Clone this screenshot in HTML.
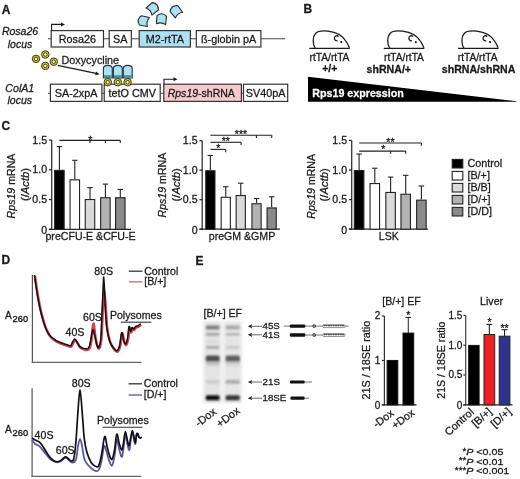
<!DOCTYPE html>
<html><head><meta charset="utf-8"><style>
html,body{margin:0;padding:0;background:#fff;}
svg{display:block;filter:blur(0.35px);}
text{stroke:#1a1a1a;stroke-width:0.28px;}
text.w{stroke:#fff;}
</style></head><body>
<svg width="520" height="479" viewBox="0 0 520 479" font-family='"Liberation Sans", sans-serif' fill="#1a1a1a">
<rect width="520" height="479" fill="#fff"/>
<text x="1.8" y="13.6" font-size="12" font-weight="bold">A</text>
<text x="20" y="35.4" font-size="10.5" text-anchor="middle" font-style="italic">Rosa26</text>
<text x="20" y="47.6" font-size="10.5" text-anchor="middle" font-style="italic">locus</text>
<line x1="48" y1="38.7" x2="285" y2="38.7" stroke="#444" stroke-width="1.1"/>
<rect x="51.2" y="30.6" width="52.3" height="16.4" fill="#fff" stroke="#333" stroke-width="1.2"/>
<text x="77.35" y="43" font-size="10.8" text-anchor="middle">Rosa26</text>
<rect x="109.2" y="30.6" width="22.1" height="16.4" fill="#fff" stroke="#333" stroke-width="1.2"/>
<text x="120.25" y="43" font-size="10.8" text-anchor="middle">SA</text>
<rect x="139.2" y="30.6" width="51.2" height="16.4" fill="#aee0f2" stroke="#333" stroke-width="1.2"/>
<text x="164.8" y="43" font-size="10.8" text-anchor="middle">M2-rtTA</text>
<rect x="196.3" y="30.6" width="64.6" height="16.4" fill="#fff" stroke="#333" stroke-width="1.2"/>
<text x="228.6" y="43" font-size="10.8" text-anchor="middle">ß-globin pA</text>
<path d="M51.6,30.6 V24.4 H62" fill="none" stroke="#1a1a1a" stroke-width="1.1"/>
<path d="M61,22.4 L65,24.4 L61,26.4 Z" fill="#1a1a1a"/>
<path d="M-4.8,-3 Q0,-7.4 4.8,-3 L4.6,5.2 Q0,2.6 -4.6,5.2 Z" transform="translate(143.3,21) rotate(-78)" fill="#aee0f2" stroke="#1d2f38" stroke-width="1.1" stroke-linejoin="round"/>
<path d="M-4.8,-3 Q0,-7.4 4.8,-3 L4.6,5.2 Q0,2.6 -4.6,5.2 Z" transform="translate(153,8.2) rotate(50)" fill="#aee0f2" stroke="#1d2f38" stroke-width="1.1" stroke-linejoin="round"/>
<path d="M-4.8,-3 Q0,-7.4 4.8,-3 L4.6,5.2 Q0,2.6 -4.6,5.2 Z" transform="translate(161.5,19) rotate(5)" fill="#aee0f2" stroke="#1d2f38" stroke-width="1.1" stroke-linejoin="round"/>
<path d="M-4.8,-3 Q0,-7.4 4.8,-3 L4.6,5.2 Q0,2.6 -4.6,5.2 Z" transform="translate(175.8,11) rotate(-38)" fill="#aee0f2" stroke="#1d2f38" stroke-width="1.1" stroke-linejoin="round"/>
<text x="19.8" y="91.5" font-size="10.6" text-anchor="middle" font-style="italic">ColA1</text>
<text x="19.8" y="103.6" font-size="10.6" text-anchor="middle" font-style="italic">locus</text>
<line x1="48" y1="93.3" x2="288" y2="93.3" stroke="#444" stroke-width="1.1"/>
<rect x="50.4" y="84.2" width="51.5" height="17.2" fill="#fff" stroke="#333" stroke-width="1.2"/>
<text x="76.15" y="97.4" font-size="10.8" text-anchor="middle">SA-2xpA</text>
<rect x="104.2" y="84.2" width="56" height="17.2" fill="#fff" stroke="#333" stroke-width="1.2"/>
<text x="132.2" y="97.4" font-size="10.8" text-anchor="middle">tetO CMV</text>
<rect x="163.8" y="84.2" width="77.6" height="17.2" fill="#f6c9cb" stroke="#333" stroke-width="1.2"/>
<text x="201.3" y="97.2" font-size="10.5" text-anchor="middle" textLength="67.2" lengthAdjust="spacingAndGlyphs"><tspan font-style="italic">Rps19</tspan>-shRNA</text>
<rect x="243.5" y="84.2" width="44.2" height="17.2" fill="#fff" stroke="#333" stroke-width="1.2"/>
<text x="265.6" y="97.4" font-size="10.8" text-anchor="middle">SV40pA</text>
<path d="M164,84.2 V79.2 H174.5" fill="none" stroke="#1a1a1a" stroke-width="1.1"/>
<path d="M173.5,77.2 L177.5,79.2 L173.5,81.2 Z" fill="#1a1a1a"/>
<path d="M103.4,78 V68.6 Q103.4,65.4 107.85,65.4 Q112.3,65.4 112.3,68.6 V78 Z" fill="#aee0f2" stroke="#1d3a48" stroke-width="1.15"/>
<rect x="103.9" y="75.2" width="7.9" height="2.8" fill="#4f8a98"/>
<path d="M113.4,78 V68.6 Q113.4,65.4 117.85,65.4 Q122.3,65.4 122.3,68.6 V78 Z" fill="#aee0f2" stroke="#1d3a48" stroke-width="1.15"/>
<rect x="113.9" y="75.2" width="7.9" height="2.8" fill="#4f8a98"/>
<path d="M123.3,78 V68.6 Q123.3,65.4 127.75,65.4 Q132.2,65.4 132.2,68.6 V78 Z" fill="#aee0f2" stroke="#1d3a48" stroke-width="1.15"/>
<rect x="123.8" y="75.2" width="7.9" height="2.8" fill="#4f8a98"/>
<circle cx="36" cy="58.9" r="3.75" fill="#d6cd38" stroke="#2b2a05" stroke-width="0.9"/>
<circle cx="36" cy="58.9" r="1.75" fill="#fff" stroke="#3a3805" stroke-width="0.95"/>
<circle cx="45.3" cy="54.5" r="3.75" fill="#d6cd38" stroke="#2b2a05" stroke-width="0.9"/>
<circle cx="45.3" cy="54.5" r="1.75" fill="#fff" stroke="#3a3805" stroke-width="0.95"/>
<circle cx="45.3" cy="65.9" r="3.75" fill="#d6cd38" stroke="#2b2a05" stroke-width="0.9"/>
<circle cx="45.3" cy="65.9" r="1.75" fill="#fff" stroke="#3a3805" stroke-width="0.95"/>
<circle cx="53.8" cy="61.7" r="3.75" fill="#d6cd38" stroke="#2b2a05" stroke-width="0.9"/>
<circle cx="53.8" cy="61.7" r="1.75" fill="#fff" stroke="#3a3805" stroke-width="0.95"/>
<circle cx="107.8" cy="82.2" r="3.75" fill="#d6cd38" stroke="#2b2a05" stroke-width="0.9"/>
<circle cx="107.8" cy="82.2" r="1.75" fill="#fff" stroke="#3a3805" stroke-width="0.95"/>
<circle cx="117.8" cy="82.2" r="3.75" fill="#d6cd38" stroke="#2b2a05" stroke-width="0.9"/>
<circle cx="117.8" cy="82.2" r="1.75" fill="#fff" stroke="#3a3805" stroke-width="0.95"/>
<circle cx="127.6" cy="82.2" r="3.75" fill="#d6cd38" stroke="#2b2a05" stroke-width="0.9"/>
<circle cx="127.6" cy="82.2" r="1.75" fill="#fff" stroke="#3a3805" stroke-width="0.95"/>
<text x="61.5" y="63.8" font-size="10.8">Doxycycline</text>
<line x1="57.7" y1="65.4" x2="96" y2="73.4" stroke="#1a1a1a" stroke-width="1.1"/>
<path d="M99.5,74.2 L95.2,75.3 L96.1,71.4 Z" fill="#1a1a1a"/>
<text x="303.6" y="12.6" font-size="12" font-weight="bold">B</text>
<g transform="translate(0,0)" fill="none" stroke="#1a1a1a" stroke-width="1.3">
<line x1="309.3" y1="48.3" x2="349.8" y2="48.3"/>
<path d="M315.2,48.2 C312.5,44 312.5,36.5 315.5,33.5 C318,30.8 323,30.6 328,31.2 C336,32 343,36 346.5,42 C347.8,44.2 348.8,46.2 349.4,47.8" stroke-linejoin="round"/>
<path d="M338.6,36.4 C337,35.2 334.6,35.8 334.4,38 C334.2,40 335.8,41.2 337.6,40.8"/>
<circle cx="341.3" cy="42.1" r="1.1" fill="#1a1a1a" stroke="none"/>
</g>
<g transform="translate(74.5,0)" fill="none" stroke="#1a1a1a" stroke-width="1.3">
<line x1="309.3" y1="48.3" x2="349.8" y2="48.3"/>
<path d="M315.2,48.2 C312.5,44 312.5,36.5 315.5,33.5 C318,30.8 323,30.6 328,31.2 C336,32 343,36 346.5,42 C347.8,44.2 348.8,46.2 349.4,47.8" stroke-linejoin="round"/>
<path d="M338.6,36.4 C337,35.2 334.6,35.8 334.4,38 C334.2,40 335.8,41.2 337.6,40.8"/>
<circle cx="341.3" cy="42.1" r="1.1" fill="#1a1a1a" stroke="none"/>
</g>
<g transform="translate(148.7,0)" fill="none" stroke="#1a1a1a" stroke-width="1.3">
<line x1="309.3" y1="48.3" x2="349.8" y2="48.3"/>
<path d="M315.2,48.2 C312.5,44 312.5,36.5 315.5,33.5 C318,30.8 323,30.6 328,31.2 C336,32 343,36 346.5,42 C347.8,44.2 348.8,46.2 349.4,47.8" stroke-linejoin="round"/>
<path d="M338.6,36.4 C337,35.2 334.6,35.8 334.4,38 C334.2,40 335.8,41.2 337.6,40.8"/>
<circle cx="341.3" cy="42.1" r="1.1" fill="#1a1a1a" stroke="none"/>
</g>
<text x="329.5" y="60.7" font-size="10.2" text-anchor="middle">rtTA/rtTA</text>
<text x="404" y="60.7" font-size="10.2" text-anchor="middle">rtTA/rtTA</text>
<text x="477.7" y="60.7" font-size="10.2" text-anchor="middle">rtTA/rtTA</text>
<text x="329.8" y="72.4" font-size="10.6" text-anchor="middle" font-weight="bold">+/+</text>
<text x="388.8" y="73.4" font-size="10.6" text-anchor="middle" font-weight="bold">shRNA/+</text>
<text x="478.6" y="73.4" font-size="10.6" text-anchor="middle" font-weight="bold">shRNA/shRNA</text>
<path d="M308,76.8 L516.5,101.2 L516.5,101.7 L308,101.7 Z" fill="#000"/>
<text x="312.3" y="97.2" font-size="10.7" font-weight="bold" fill="#fff" class="w">Rps19 expression</text>
<text x="1.6" y="130.2" font-size="12" font-weight="bold">C</text>
<line x1="51.7" y1="140.05" x2="51.7" y2="229.8" stroke="#333" stroke-width="1.3"/>
<line x1="48.9" y1="229.3" x2="131" y2="229.3" stroke="#222" stroke-width="1.3"/>
<line x1="48.9" y1="229.3" x2="51.7" y2="229.3" stroke="#222" stroke-width="1.2"/>
<text transform="translate(47.1,233.7) scale(1.06,1)" font-size="10" text-anchor="end">0</text>
<line x1="48.9" y1="199.55" x2="51.7" y2="199.55" stroke="#222" stroke-width="1.2"/>
<text transform="translate(47.1,203.05) scale(1.06,1)" font-size="10" text-anchor="end">0.5</text>
<line x1="48.9" y1="169.8" x2="51.7" y2="169.8" stroke="#222" stroke-width="1.2"/>
<text transform="translate(47.1,173.3) scale(1.06,1)" font-size="10" text-anchor="end">1.0</text>
<line x1="48.9" y1="140.05" x2="51.7" y2="140.05" stroke="#222" stroke-width="1.2"/>
<text transform="translate(47.1,143.55) scale(1.06,1)" font-size="10" text-anchor="end">1.5</text>
<line x1="59.4" y1="169.8" x2="59.4" y2="146.6" stroke="#222" stroke-width="1.1"/>
<line x1="56.7" y1="146.6" x2="62.1" y2="146.6" stroke="#222" stroke-width="1.1"/>
<rect x="54.65" y="170.35" width="9.5" height="58.95" fill="#000000" stroke="#222" stroke-width="1.1"/>
<line x1="74.8" y1="179.32" x2="74.8" y2="160.28" stroke="#222" stroke-width="1.1"/>
<line x1="72.1" y1="160.28" x2="77.5" y2="160.28" stroke="#222" stroke-width="1.1"/>
<rect x="70.05" y="179.87" width="9.5" height="49.43" fill="#ffffff" stroke="#222" stroke-width="1.1"/>
<line x1="90" y1="198.96" x2="90" y2="187.65" stroke="#222" stroke-width="1.1"/>
<line x1="87.3" y1="187.65" x2="92.7" y2="187.65" stroke="#222" stroke-width="1.1"/>
<rect x="85.25" y="199.51" width="9.5" height="29.79" fill="#dadada" stroke="#222" stroke-width="1.1"/>
<line x1="105.4" y1="197.17" x2="105.4" y2="184.08" stroke="#222" stroke-width="1.1"/>
<line x1="102.7" y1="184.08" x2="108.1" y2="184.08" stroke="#222" stroke-width="1.1"/>
<rect x="100.65" y="197.72" width="9.5" height="31.58" fill="#b2b2b2" stroke="#222" stroke-width="1.1"/>
<line x1="120.3" y1="197.17" x2="120.3" y2="189.44" stroke="#222" stroke-width="1.1"/>
<line x1="117.6" y1="189.44" x2="123" y2="189.44" stroke="#222" stroke-width="1.1"/>
<rect x="115.55" y="197.72" width="9.5" height="31.58" fill="#8a8a8a" stroke="#222" stroke-width="1.1"/>
<text transform="translate(15,186) rotate(-90)" text-anchor="middle" font-size="10.6"><tspan font-style="italic">Rps19</tspan> mRNA</text>
<text transform="translate(28.6,184.5) rotate(-90)" text-anchor="middle" font-size="10" textLength="33.2" lengthAdjust="spacingAndGlyphs">(/<tspan font-style="italic">Actb</tspan>)</text>
<text x="90.5" y="239.6" font-size="10.6" text-anchor="middle">preCFU-E &amp;CFU-E</text>
<line x1="59.4" y1="140.4" x2="120.3" y2="140.4" stroke="#222" stroke-width="1.1"/>
<line x1="90" y1="140.4" x2="90" y2="143" stroke="#222" stroke-width="1.1"/>
<line x1="105.4" y1="140.4" x2="105.4" y2="143" stroke="#222" stroke-width="1.1"/>
<line x1="120.3" y1="140.4" x2="120.3" y2="143" stroke="#222" stroke-width="1.1"/>
<text x="90.3" y="143.6" font-size="10.5" text-anchor="middle">*</text>
<line x1="202.2" y1="140.7" x2="202.2" y2="229.7" stroke="#333" stroke-width="1.3"/>
<line x1="199.4" y1="229.2" x2="280" y2="229.2" stroke="#222" stroke-width="1.3"/>
<line x1="199.4" y1="229.2" x2="202.2" y2="229.2" stroke="#222" stroke-width="1.2"/>
<text transform="translate(197.6,233.6) scale(1.06,1)" font-size="10" text-anchor="end">0</text>
<line x1="199.4" y1="199.7" x2="202.2" y2="199.7" stroke="#222" stroke-width="1.2"/>
<text transform="translate(197.6,203.2) scale(1.06,1)" font-size="10" text-anchor="end">0.5</text>
<line x1="199.4" y1="170.2" x2="202.2" y2="170.2" stroke="#222" stroke-width="1.2"/>
<text transform="translate(197.6,173.7) scale(1.06,1)" font-size="10" text-anchor="end">1.0</text>
<line x1="199.4" y1="140.7" x2="202.2" y2="140.7" stroke="#222" stroke-width="1.2"/>
<text transform="translate(197.6,144.2) scale(1.06,1)" font-size="10" text-anchor="end">1.5</text>
<line x1="210.35" y1="170.2" x2="210.35" y2="155.45" stroke="#222" stroke-width="1.1"/>
<line x1="207.65" y1="155.45" x2="213.05" y2="155.45" stroke="#222" stroke-width="1.1"/>
<rect x="205.75" y="170.75" width="9.2" height="58.45" fill="#000000" stroke="#222" stroke-width="1.1"/>
<line x1="225.75" y1="196.75" x2="225.75" y2="186.72" stroke="#222" stroke-width="1.1"/>
<line x1="223.05" y1="186.72" x2="228.45" y2="186.72" stroke="#222" stroke-width="1.1"/>
<rect x="221.15" y="197.3" width="9.2" height="31.9" fill="#ffffff" stroke="#222" stroke-width="1.1"/>
<line x1="240.75" y1="194.98" x2="240.75" y2="183.18" stroke="#222" stroke-width="1.1"/>
<line x1="238.05" y1="183.18" x2="243.45" y2="183.18" stroke="#222" stroke-width="1.1"/>
<rect x="236.15" y="195.53" width="9.2" height="33.67" fill="#dadada" stroke="#222" stroke-width="1.1"/>
<line x1="256.55" y1="203.24" x2="256.55" y2="198.52" stroke="#222" stroke-width="1.1"/>
<line x1="253.85" y1="198.52" x2="259.25" y2="198.52" stroke="#222" stroke-width="1.1"/>
<rect x="251.95" y="203.79" width="9.2" height="25.41" fill="#b2b2b2" stroke="#222" stroke-width="1.1"/>
<line x1="271.65" y1="207.37" x2="271.65" y2="196.75" stroke="#222" stroke-width="1.1"/>
<line x1="268.95" y1="196.75" x2="274.35" y2="196.75" stroke="#222" stroke-width="1.1"/>
<rect x="267.05" y="207.92" width="9.2" height="21.28" fill="#8a8a8a" stroke="#222" stroke-width="1.1"/>
<text transform="translate(166.3,185.1) rotate(-90)" text-anchor="middle" font-size="10.6"><tspan font-style="italic">Rps19</tspan> mRNA</text>
<text transform="translate(179.9,184.8) rotate(-90)" text-anchor="middle" font-size="10" textLength="33.2" lengthAdjust="spacingAndGlyphs">(/<tspan font-style="italic">Actb</tspan>)</text>
<text x="242" y="239.6" font-size="10.6" text-anchor="middle">preGM &amp;GMP</text>
<line x1="210.35" y1="149.4" x2="225.7" y2="149.4" stroke="#222" stroke-width="1.1"/>
<line x1="225.7" y1="149.4" x2="225.7" y2="152.2" stroke="#222" stroke-width="1.1"/>
<text x="218.3" y="152.2" font-size="10.5" text-anchor="middle">*</text>
<line x1="210.35" y1="142.3" x2="241.05" y2="142.3" stroke="#222" stroke-width="1.1"/>
<line x1="241.05" y1="142.3" x2="241.05" y2="145.1" stroke="#222" stroke-width="1.1"/>
<text x="225.8" y="145.4" font-size="10.5" text-anchor="middle">**</text>
<line x1="210.35" y1="135.2" x2="271.75" y2="135.2" stroke="#222" stroke-width="1.1"/>
<line x1="256.4" y1="135.2" x2="256.4" y2="138" stroke="#222" stroke-width="1.1"/>
<line x1="271.75" y1="135.2" x2="271.75" y2="138" stroke="#222" stroke-width="1.1"/>
<text x="241" y="138.2" font-size="10.5" text-anchor="middle">***</text>
<line x1="351.7" y1="140.4" x2="351.7" y2="229.7" stroke="#333" stroke-width="1.3"/>
<line x1="348.9" y1="229.2" x2="428" y2="229.2" stroke="#222" stroke-width="1.3"/>
<line x1="348.9" y1="229.2" x2="351.7" y2="229.2" stroke="#222" stroke-width="1.2"/>
<text transform="translate(347.1,233.6) scale(1.06,1)" font-size="10" text-anchor="end">0</text>
<line x1="348.9" y1="199.6" x2="351.7" y2="199.6" stroke="#222" stroke-width="1.2"/>
<text transform="translate(347.1,203.1) scale(1.06,1)" font-size="10" text-anchor="end">0.5</text>
<line x1="348.9" y1="170" x2="351.7" y2="170" stroke="#222" stroke-width="1.2"/>
<text transform="translate(347.1,173.5) scale(1.06,1)" font-size="10" text-anchor="end">1.0</text>
<line x1="348.9" y1="140.4" x2="351.7" y2="140.4" stroke="#222" stroke-width="1.2"/>
<text transform="translate(347.1,143.9) scale(1.06,1)" font-size="10" text-anchor="end">1.5</text>
<line x1="359.1" y1="170" x2="359.1" y2="154.02" stroke="#222" stroke-width="1.1"/>
<line x1="356.4" y1="154.02" x2="361.8" y2="154.02" stroke="#222" stroke-width="1.1"/>
<rect x="354.35" y="170.55" width="9.5" height="58.65" fill="#000000" stroke="#222" stroke-width="1.1"/>
<line x1="374.8" y1="183.02" x2="374.8" y2="168.22" stroke="#222" stroke-width="1.1"/>
<line x1="372.1" y1="168.22" x2="377.5" y2="168.22" stroke="#222" stroke-width="1.1"/>
<rect x="370.05" y="183.57" width="9.5" height="45.63" fill="#ffffff" stroke="#222" stroke-width="1.1"/>
<line x1="390.6" y1="191.9" x2="390.6" y2="177.1" stroke="#222" stroke-width="1.1"/>
<line x1="387.9" y1="177.1" x2="393.3" y2="177.1" stroke="#222" stroke-width="1.1"/>
<rect x="385.85" y="192.45" width="9.5" height="36.75" fill="#dadada" stroke="#222" stroke-width="1.1"/>
<line x1="405.7" y1="193.68" x2="405.7" y2="175.33" stroke="#222" stroke-width="1.1"/>
<line x1="403" y1="175.33" x2="408.4" y2="175.33" stroke="#222" stroke-width="1.1"/>
<rect x="400.95" y="194.23" width="9.5" height="34.97" fill="#b2b2b2" stroke="#222" stroke-width="1.1"/>
<line x1="421.4" y1="199.6" x2="421.4" y2="185.98" stroke="#222" stroke-width="1.1"/>
<line x1="418.7" y1="185.98" x2="424.1" y2="185.98" stroke="#222" stroke-width="1.1"/>
<rect x="416.65" y="200.15" width="9.5" height="29.05" fill="#8a8a8a" stroke="#222" stroke-width="1.1"/>
<text transform="translate(314.5,186.3) rotate(-90)" text-anchor="middle" font-size="10.6"><tspan font-style="italic">Rps19</tspan> mRNA</text>
<text transform="translate(328.3,184.8) rotate(-90)" text-anchor="middle" font-size="10" textLength="33.2" lengthAdjust="spacingAndGlyphs">(/<tspan font-style="italic">Actb</tspan>)</text>
<text x="388.8" y="239.6" font-size="10.6" text-anchor="middle">LSK</text>
<line x1="359.1" y1="151.1" x2="405.7" y2="151.1" stroke="#222" stroke-width="1.1"/>
<line x1="390.6" y1="151.1" x2="390.6" y2="153.8" stroke="#222" stroke-width="1.1"/>
<line x1="405.7" y1="151.1" x2="405.7" y2="153.8" stroke="#222" stroke-width="1.1"/>
<text x="383.4" y="153.3" font-size="10.5" text-anchor="middle">*</text>
<line x1="359.1" y1="143" x2="421.4" y2="143" stroke="#222" stroke-width="1.1"/>
<line x1="421.4" y1="143" x2="421.4" y2="145.8" stroke="#222" stroke-width="1.1"/>
<text x="390.4" y="145.6" font-size="10.5" text-anchor="middle">**</text>
<rect x="452.2" y="159.4" width="10.6" height="8.6" fill="#000000" stroke="#222" stroke-width="1.1"/>
<text x="467.4" y="167.4" font-size="10.8">Control</text>
<rect x="452.2" y="171.4" width="10.6" height="8.6" fill="#ffffff" stroke="#222" stroke-width="1.1"/>
<text x="467.4" y="179.4" font-size="10.8">[B/+]</text>
<rect x="452.2" y="183.4" width="10.6" height="8.6" fill="#dadada" stroke="#222" stroke-width="1.1"/>
<text x="467.4" y="191.4" font-size="10.8">[B/B]</text>
<rect x="452.2" y="195.4" width="10.6" height="8.6" fill="#b2b2b2" stroke="#222" stroke-width="1.1"/>
<text x="467.4" y="203.4" font-size="10.8">[D/+]</text>
<rect x="452.2" y="207.4" width="10.6" height="8.6" fill="#8a8a8a" stroke="#222" stroke-width="1.1"/>
<text x="467.4" y="215.4" font-size="10.8">[D/D]</text>
<text x="1.6" y="263.9" font-size="12" font-weight="bold">D</text>
<text x="5.1" y="319.3" font-size="10.1">A</text>
<text x="12.6" y="321.6" font-size="9.3" style="stroke-width:0.38px">260</text>
<text x="5.1" y="432.8" font-size="10.1">A</text>
<text x="12.6" y="435.9" font-size="9.3" style="stroke-width:0.38px">260</text>
<line x1="32.4" y1="274.8" x2="32.4" y2="362.9" stroke="#555" stroke-width="1.2"/>
<line x1="31.8" y1="362.3" x2="141.6" y2="362.3" stroke="#666" stroke-width="1.2"/>
<line x1="32.1" y1="388.3" x2="32.1" y2="476.9" stroke="#555" stroke-width="1.2"/>
<line x1="31.5" y1="476.3" x2="141.3" y2="476.3" stroke="#666" stroke-width="1.2"/>
<path d="M34.9,276 C35.17,277.82 35.92,283.1 36.5,286.9 C37.08,290.7 37.68,294.83 38.4,298.8 C39.12,302.77 39.97,307.07 40.8,310.7 C41.63,314.33 42.47,317.47 43.4,320.6 C44.33,323.73 45.25,326.85 46.4,329.5 C47.55,332.15 48.65,334.52 50.3,336.5 C51.95,338.48 54.32,340.15 56.3,341.4 C58.28,342.65 60.22,343.23 62.2,344 C64.18,344.77 66.7,345.57 68.2,346 C69.7,346.43 70.38,347.1 71.2,346.6 C72.02,346.1 72.45,344.1 73.1,343 C73.75,341.9 74.43,340.1 75.1,340 C75.77,339.9 76.27,341.17 77.1,342.4 C77.93,343.63 78.93,346.23 80.1,347.4 C81.27,348.57 82.78,349.03 84.1,349.4 C85.42,349.77 87.02,350 88,349.6 C88.98,349.2 89.38,348.93 90,347 C90.62,345.07 91.13,341.92 91.7,338 C92.27,334.08 92.78,323.67 93.4,323.5 C94.02,323.33 94.73,333.25 95.4,337 C96.07,340.75 96.73,344.13 97.4,346 C98.07,347.87 98.73,349.45 99.4,348.2 C100.07,346.95 100.82,345.53 101.4,338.5 C101.98,331.47 102.42,313.92 102.9,306 C103.38,298.08 103.83,290.83 104.3,291 C104.77,291.17 105.2,300.67 105.7,307 C106.2,313.33 106.53,323.1 107.3,329 C108.07,334.9 109.13,339 110.3,342.4 C111.47,345.8 113.13,347.83 114.3,349.4 C115.47,350.97 116.35,352.2 117.3,351.8 C118.25,351.4 119.18,350.05 120,347 C120.82,343.95 121.5,334.43 122.2,333.5 C122.9,332.57 123.53,339.48 124.2,341.4 C124.87,343.32 125.53,345.48 126.2,345 C126.87,344.52 127.65,341.42 128.2,338.5 C128.75,335.58 129.02,328.5 129.5,327.5 C129.98,326.5 130.6,332.33 131.1,332.5 C131.6,332.67 132,328.92 132.5,328.5 C133,328.08 133.5,330.17 134.1,330 C134.7,329.83 135.33,328.07 136.1,327.5 C136.87,326.93 137.87,327.08 138.7,326.6 C139.53,326.12 140.7,324.93 141.1,324.6" fill="none" stroke="#d9414f" stroke-width="2.6" stroke-linejoin="round"/>
<path d="M34.4,275 C34.67,276.82 35.42,282.1 36,285.9 C36.58,289.7 37.18,293.83 37.9,297.8 C38.62,301.77 39.47,306.07 40.3,309.7 C41.13,313.33 41.97,316.47 42.9,319.6 C43.83,322.73 44.75,325.85 45.9,328.5 C47.05,331.15 48.15,333.52 49.8,335.5 C51.45,337.48 53.82,339.15 55.8,340.4 C57.78,341.65 59.72,342.23 61.7,343 C63.68,343.77 66.2,344.57 67.7,345 C69.2,345.43 69.88,346.1 70.7,345.6 C71.52,345.1 71.95,343.1 72.6,342 C73.25,340.9 73.93,339.1 74.6,339 C75.27,338.9 75.77,340.17 76.6,341.4 C77.43,342.63 78.43,345.23 79.6,346.4 C80.77,347.57 82.28,348.03 83.6,348.4 C84.92,348.77 86.52,349 87.5,348.6 C88.48,348.2 88.88,347.93 89.5,346 C90.12,344.07 90.63,339.75 91.2,337 C91.77,334.25 92.28,329.67 92.9,329.5 C93.52,329.33 94.23,333.42 94.9,336 C95.57,338.58 96.23,343.13 96.9,345 C97.57,346.87 98.23,348.45 98.9,347.2 C99.57,345.95 100.32,344.53 100.9,337.5 C101.48,330.47 101.92,315.08 102.4,305 C102.88,294.92 103.33,276.83 103.8,277 C104.27,277.17 104.7,297.5 105.2,306 C105.7,314.5 106.03,322.1 106.8,328 C107.57,333.9 108.63,338 109.8,341.4 C110.97,344.8 112.63,346.83 113.8,348.4 C114.97,349.97 115.85,351.2 116.8,350.8 C117.75,350.4 118.68,349.05 119.5,346 C120.32,342.95 121,333.43 121.7,332.5 C122.4,331.57 123.03,338.48 123.7,340.4 C124.37,342.32 125.03,344.48 125.7,344 C126.37,343.52 127.15,340.42 127.7,337.5 C128.25,334.58 128.52,327.5 129,326.5 C129.48,325.5 130.1,331.33 130.6,331.5 C131.1,331.67 131.5,327.92 132,327.5 C132.5,327.08 133,329.17 133.6,329 C134.2,328.83 134.83,327.07 135.6,326.5 C136.37,325.93 137.37,326.08 138.2,325.6 C139.03,325.12 140.2,323.93 140.6,323.6" fill="none" stroke="#111" stroke-width="1.5" stroke-linejoin="round"/>
<text x="94.3" y="274.5" font-size="10.6">80S</text>
<text x="83" y="321.2" font-size="10.6">60S</text>
<text x="65.5" y="336.2" font-size="10.6">40S</text>
<text x="109.9" y="319.3" font-size="10.6">Polysomes</text>
<line x1="120.9" y1="322.2" x2="151.3" y2="322.2" stroke="#333" stroke-width="1.1"/>
<line x1="128.8" y1="271.2" x2="142.4" y2="271.2" stroke="#333" stroke-width="1.3"/>
<text x="144.2" y="274.9" font-size="10.6">Control</text>
<line x1="128.8" y1="281.8" x2="142.4" y2="281.8" stroke="#e0808a" stroke-width="1.6"/>
<text x="144.2" y="285.3" font-size="10.6">[B/+]</text>
<path d="M32.1,440 C32.62,440.67 34,442.98 35.2,444 C36.4,445.02 37.75,444.72 39.3,446.1 C40.85,447.48 42.6,450.05 44.5,452.3 C46.4,454.55 48.63,457.93 50.7,459.6 C52.77,461.27 55.18,462.03 56.9,462.3 C58.62,462.57 59.55,462 61,461.2 C62.45,460.4 64.22,457.6 65.6,457.5 C66.98,457.4 68.17,459.73 69.3,460.6 C70.43,461.47 71.3,462.87 72.4,462.7 C73.5,462.53 74.97,462.37 75.9,459.6 C76.83,456.83 77.32,449.55 78,446.1 C78.68,442.65 79.32,438.9 80,438.9 C80.68,438.9 81.4,442.83 82.1,446.1 C82.8,449.37 83.42,455.6 84.2,458.5 C84.98,461.4 85.83,462.08 86.8,463.5 C87.77,464.92 88.8,465.87 90,467 C91.2,468.13 92.75,469.63 94,470.3 C95.25,470.97 96.63,471.22 97.5,471 C98.37,470.78 98.52,470.72 99.2,469 C99.88,467.28 100.78,464.55 101.6,460.7 C102.42,456.85 103.27,447.35 104.1,445.9 C104.93,444.45 105.68,449.33 106.6,452 C107.52,454.67 108.68,459.67 109.6,461.9 C110.52,464.13 111.27,466.43 112.1,465.4 C112.93,464.37 113.82,459.98 114.6,455.7 C115.38,451.42 115.98,440.52 116.8,439.7 C117.62,438.88 118.63,447.95 119.5,450.8 C120.37,453.65 121.28,457.62 122,456.8 C122.72,455.98 123.23,449.77 123.8,445.9 C124.37,442.03 124.78,433.82 125.4,433.6 C126.02,433.38 126.83,441.87 127.5,444.6 C128.17,447.33 128.85,450.82 129.4,450 C129.95,449.18 130.3,442.65 130.8,439.7 C131.3,436.75 131.82,432.1 132.4,432.3 C132.98,432.5 133.78,438.98 134.3,440.9 C134.82,442.82 135.13,444.82 135.5,443.8 C135.87,442.78 136.13,436.5 136.5,434.8 C136.87,433.1 137.28,433.2 137.7,433.6 C138.12,434 138.55,436.48 139,437.2 C139.45,437.92 139.95,437.9 140.4,437.9 C140.85,437.9 141.48,437.32 141.7,437.2" fill="none" stroke="#5858a6" stroke-width="1.8" stroke-linejoin="round"/>
<path d="M32.1,437.9 C32.62,438.25 34,439.32 35.2,440 C36.4,440.68 38.1,441.05 39.3,442 C40.5,442.95 41.2,443.98 42.4,445.7 C43.6,447.42 45.12,450.23 46.5,452.3 C47.88,454.37 49.15,456.55 50.7,458.1 C52.25,459.65 54.25,461.12 55.8,461.6 C57.35,462.08 58.78,461.52 60,461 C61.22,460.48 62.17,459.18 63.1,458.5 C64.03,457.82 64.75,456.9 65.6,456.9 C66.45,456.9 67.25,457.82 68.2,458.5 C69.15,459.18 70.37,461 71.3,461 C72.23,461 73.03,461.67 73.8,458.5 C74.57,455.33 75.2,449.92 75.9,442 C76.6,434.08 77.32,419.75 78,411 C78.68,402.25 79.32,389.5 80,389.5 C80.68,389.5 81.4,402.93 82.1,411 C82.8,419.07 83.42,431.07 84.2,437.9 C84.98,444.73 85.63,447.9 86.8,452 C87.97,456.1 89.85,460.17 91.2,462.5 C92.55,464.83 93.67,465.42 94.9,466 C96.13,466.58 97.48,467.92 98.6,466 C99.72,464.08 100.58,459.4 101.6,454.5 C102.62,449.6 103.77,437.83 104.7,436.6 C105.63,435.37 106.38,443.92 107.2,447.1 C108.02,450.28 108.78,453.68 109.6,455.7 C110.42,457.72 111.27,460.22 112.1,459.2 C112.93,458.18 113.82,453.77 114.6,449.6 C115.38,445.43 115.98,435.03 116.8,434.2 C117.62,433.37 118.63,441.97 119.5,444.6 C120.37,447.23 121.28,450.62 122,450 C122.72,449.38 123.23,443.95 123.8,440.9 C124.37,437.85 124.78,431.7 125.4,431.7 C126.02,431.7 126.88,438.57 127.5,440.9 C128.12,443.23 128.55,446.32 129.1,445.7 C129.65,445.08 130.25,439.73 130.8,437.2 C131.35,434.67 131.87,430.5 132.4,430.5 C132.93,430.5 133.52,435.18 134,437.2 C134.48,439.22 134.88,443 135.3,442.6 C135.72,442.2 136.1,436.3 136.5,434.8 C136.9,433.3 137.28,433.2 137.7,433.6 C138.12,434 138.55,436.48 139,437.2 C139.45,437.92 139.95,437.9 140.4,437.9 C140.85,437.9 141.48,437.32 141.7,437.2" fill="none" stroke="#111" stroke-width="1.7" stroke-linejoin="round"/>
<text x="71.8" y="387.1" font-size="10.6">80S</text>
<text x="55.8" y="454.4" font-size="10.6">60S</text>
<text x="34.6" y="438.9" font-size="10.6">40S</text>
<text x="97" y="423.6" font-size="10.6">Polysomes</text>
<line x1="102.5" y1="427.3" x2="142.4" y2="427.3" stroke="#333" stroke-width="1.1"/>
<line x1="128.6" y1="383.8" x2="142" y2="383.8" stroke="#333" stroke-width="1.3"/>
<text x="143.8" y="386.7" font-size="10.6">Control</text>
<line x1="128.6" y1="395" x2="142" y2="395" stroke="#6a6ab0" stroke-width="1.5"/>
<text x="143.8" y="398.2" font-size="10.6">[D/+]</text>
<text x="195.4" y="264.9" font-size="12" font-weight="bold">E</text>
<text x="203.5" y="317.4" font-size="10.6">[B/+] EF</text>
<defs><filter id="bl" x="-30%" y="-100%" width="160%" height="300%"><feGaussianBlur stdDeviation="0.9 0.8"/></filter><filter id="bl2" x="-20%" y="-20%" width="140%" height="140%"><feGaussianBlur stdDeviation="1.2"/></filter><pattern id="zz" width="2.4" height="3" patternUnits="userSpaceOnUse"><path d="M0,2.2 L1.2,0.6 L2.4,2.2" fill="none" stroke="#333" stroke-width="0.85"/></pattern></defs>
<rect x="202.5" y="321" width="40" height="82.5" fill="#f0f0f0" filter="url(#bl2)"/>
<g filter="url(#bl2)"><rect x="205.2" y="322" width="14.6" height="80" fill="#e4e4e4"/><rect x="225.2" y="322" width="15" height="80" fill="#e6e6e6"/></g>
<g filter="url(#bl)">
<rect x="205.8" y="325.4" width="13.8" height="4" rx="1.5" fill="#7e7e7e"/>
<rect x="225.6" y="325.4" width="14.2" height="4" rx="1.5" fill="#a8a8a8"/>
<rect x="205.8" y="333.1" width="13.8" height="2.4" rx="1.5" fill="#9c9c9c"/>
<rect x="225.6" y="333.1" width="14.2" height="2.4" rx="1.5" fill="#b0b0b0"/>
<rect x="205.8" y="340.6" width="13.8" height="2" rx="1.5" fill="#d8d8d8"/>
<rect x="225.6" y="340.6" width="14.2" height="2" rx="1.5" fill="#e0e0e0"/>
<rect x="205.8" y="346.1" width="13.8" height="2.6" rx="1.5" fill="#a6a6a6"/>
<rect x="225.6" y="346.1" width="14.2" height="2.6" rx="1.5" fill="#c8c8c8"/>
<rect x="205.8" y="355.5" width="13.8" height="6.6" rx="1.5" fill="#505050"/>
<rect x="225.6" y="355.5" width="14.2" height="6.6" rx="1.5" fill="#5e5e5e"/>
<rect x="205.8" y="361.6" width="13.8" height="4" rx="1.5" fill="#c4c4c4"/>
<rect x="225.6" y="361.6" width="14.2" height="4" rx="1.5" fill="#cccccc"/>
<rect x="205.8" y="379.9" width="13.8" height="3.8" rx="1.5" fill="#cdcdcd"/>
<rect x="225.6" y="379.9" width="14.2" height="3.8" rx="1.5" fill="#aaaaaa"/>
<rect x="205.8" y="395.3" width="13.8" height="5" rx="1.5" fill="#111111"/>
<rect x="225.6" y="395.3" width="14.2" height="5" rx="1.5" fill="#363636"/>
</g>
<line x1="251" y1="326.3" x2="262" y2="326.3" stroke="#555" stroke-width="0.9"/>
<path d="M247.8,326.3 L252.2,324.2 L251.2,326.3 L252.2,328.4 Z" fill="#222"/>
<text x="262.6" y="329.2" font-size="9.4" textLength="17.2" lengthAdjust="spacingAndGlyphs">45S</text>
<line x1="251" y1="334.8" x2="262" y2="334.8" stroke="#555" stroke-width="0.9"/>
<path d="M247.8,334.8 L252.2,332.7 L251.2,334.8 L252.2,336.9 Z" fill="#222"/>
<text x="262.6" y="337.7" font-size="9.4" textLength="17.2" lengthAdjust="spacingAndGlyphs">41S</text>
<line x1="251" y1="382" x2="262" y2="382" stroke="#555" stroke-width="0.9"/>
<path d="M247.8,382 L252.2,379.9 L251.2,382 L252.2,384.1 Z" fill="#222"/>
<text x="262.6" y="384.9" font-size="9.4" textLength="17.4" lengthAdjust="spacingAndGlyphs">21S</text>
<line x1="251" y1="398.2" x2="262" y2="398.2" stroke="#555" stroke-width="0.9"/>
<path d="M247.8,398.2 L252.2,396.1 L251.2,398.2 L252.2,400.3 Z" fill="#222"/>
<text x="262.6" y="401.1" font-size="9.4" textLength="23.6" lengthAdjust="spacingAndGlyphs">18SE</text>
<line x1="283.8" y1="326.1" x2="348.8" y2="326.1" stroke="#666" stroke-width="0.9"/>
<line x1="305" y1="335" x2="322.8" y2="335" stroke="#666" stroke-width="0.9"/>
<rect x="289.8" y="324.4" width="15.5" height="3.4" rx="1.2" fill="#111"/>
<circle cx="314.2" cy="326.1" r="1.5" fill="#8a8a8a" stroke="#333" stroke-width="0.7"/>
<rect x="322.8" y="324.6" width="22.2" height="3" rx="1.2" fill="#fff" stroke="#555" stroke-width="0.6"/>
<rect x="323.6" y="325" width="20.6" height="2.2" fill="url(#zz)"/>
<rect x="289.8" y="333.3" width="15.5" height="3.4" rx="1.2" fill="#111"/>
<circle cx="314.2" cy="335" r="1.5" fill="#8a8a8a" stroke="#333" stroke-width="0.7"/>
<rect x="322.8" y="333.5" width="22.2" height="3" rx="1.2" fill="#fff" stroke="#555" stroke-width="0.6"/>
<rect x="323.6" y="333.9" width="20.6" height="2.2" fill="url(#zz)"/>
<line x1="290" y1="382" x2="312" y2="382" stroke="#666" stroke-width="0.9"/>
<rect x="290" y="380.4" width="14.6" height="3.2" rx="1.2" fill="#111"/>
<line x1="290.5" y1="398.2" x2="309" y2="398.2" stroke="#666" stroke-width="0.9"/>
<rect x="290.5" y="396.6" width="14.1" height="3.2" rx="1.2" fill="#111"/>
<text transform="translate(217,413) rotate(-38)" font-size="11" text-anchor="end">-Dox</text>
<text transform="translate(240.5,412) rotate(-38)" font-size="11" text-anchor="end">+Dox</text>
<line x1="384.4" y1="316" x2="384.4" y2="405.4" stroke="#333" stroke-width="1.2"/>
<line x1="381.8" y1="404.9" x2="416.5" y2="404.9" stroke="#222" stroke-width="1.2"/>
<line x1="381.8" y1="404.9" x2="384.4" y2="404.9" stroke="#333" stroke-width="1.2"/>
<text x="380.4" y="408.7" font-size="10" text-anchor="end">0</text>
<line x1="381.8" y1="360.45" x2="384.4" y2="360.45" stroke="#333" stroke-width="1.2"/>
<text x="380.4" y="363.75" font-size="10" text-anchor="end">1</text>
<line x1="381.8" y1="316" x2="384.4" y2="316" stroke="#333" stroke-width="1.2"/>
<text x="380.4" y="319.3" font-size="10" text-anchor="end">2</text>
<rect x="387.1" y="360.45" width="10.7" height="44.45" fill="#000" stroke="#111" stroke-width="1"/>
<line x1="408.3" y1="333.1" x2="408.3" y2="317.4" stroke="#333" stroke-width="1.1"/>
<line x1="405.4" y1="317.4" x2="411.1" y2="317.4" stroke="#222" stroke-width="1.1"/>
<rect x="403" y="333.1" width="10.7" height="71.8" fill="#000" stroke="#111" stroke-width="1"/>
<text x="408.4" y="319" font-size="10.5" text-anchor="middle">*</text>
<text x="401.5" y="304.5" font-size="10.6" text-anchor="middle">[B/+] EF</text>
<text transform="translate(370.2,360.1) rotate(-90)" text-anchor="middle" font-size="10.8">21S / 18SE ratio</text>
<text transform="translate(394.6,414.6) rotate(-37)" font-size="10.8" text-anchor="end">-Dox</text>
<text transform="translate(415.4,414.2) rotate(-37)" font-size="10.8" text-anchor="end">+Dox</text>
<line x1="465.7" y1="315.35" x2="465.7" y2="405.4" stroke="#444" stroke-width="1.2"/>
<line x1="463.3" y1="404.9" x2="512.5" y2="404.9" stroke="#222" stroke-width="1.2"/>
<line x1="463.3" y1="404.9" x2="465.7" y2="404.9" stroke="#333" stroke-width="1.2"/>
<text x="462.3" y="408.9" font-size="10" text-anchor="end">0</text>
<line x1="463.3" y1="375.05" x2="465.7" y2="375.05" stroke="#333" stroke-width="1.2"/>
<text x="462.3" y="378.45" font-size="10" text-anchor="end">0.5</text>
<line x1="463.3" y1="345.2" x2="465.7" y2="345.2" stroke="#333" stroke-width="1.2"/>
<text x="462.3" y="348.6" font-size="10" text-anchor="end">1.0</text>
<line x1="463.3" y1="315.35" x2="465.7" y2="315.35" stroke="#333" stroke-width="1.2"/>
<text x="462.3" y="318.75" font-size="10" text-anchor="end">1.5</text>
<rect x="468.7" y="345.4" width="10.4" height="59.5" fill="#000" stroke="#111" stroke-width="1"/>
<line x1="489.35" y1="334.5" x2="489.35" y2="324.4" stroke="#222" stroke-width="1.1"/>
<line x1="486.35" y1="324.4" x2="492.35" y2="324.4" stroke="#222" stroke-width="1.1"/>
<rect x="484" y="334.5" width="10.7" height="70.4" fill="#ee1f26" stroke="#222" stroke-width="1"/>
<line x1="504.55" y1="336.2" x2="504.55" y2="329.7" stroke="#222" stroke-width="1.1"/>
<line x1="501.55" y1="329.7" x2="507.55" y2="329.7" stroke="#222" stroke-width="1.1"/>
<rect x="499.2" y="336.2" width="10.7" height="68.7" fill="#2b3590" stroke="#222" stroke-width="1"/>
<text x="489.5" y="326.4" font-size="10.5" text-anchor="middle">*</text>
<text x="504.6" y="331.5" font-size="10.5" text-anchor="middle">**</text>
<text x="491.6" y="305" font-size="10.6" text-anchor="middle">Liver</text>
<text transform="translate(445.2,360.1) rotate(-90)" text-anchor="middle" font-size="10.6">21S / 18SE ratio</text>
<text transform="translate(474.5,413) rotate(-42)" font-size="10.8" text-anchor="end">Control</text>
<text transform="translate(492.6,412.5) rotate(-42)" font-size="10.8" text-anchor="end">[B/+]</text>
<text transform="translate(512,412.5) rotate(-42)" font-size="10.8" text-anchor="end">[D/+]</text>
<text transform="translate(466.4,454) scale(1.1,1)" font-size="9" text-anchor="end">*</text>
<text transform="translate(466.2,455.4) scale(1.08,1)" font-size="9.9"><tspan font-style="italic">P</tspan> &lt;0.05</text>
<text transform="translate(466.4,463.2) scale(1.1,1)" font-size="9" text-anchor="end">**</text>
<text transform="translate(466.2,464.6) scale(1.08,1)" font-size="9.9"><tspan font-style="italic">P</tspan> &lt;0.01</text>
<text transform="translate(466.4,472.9) scale(1.1,1)" font-size="9" text-anchor="end">***</text>
<text transform="translate(466.2,474.3) scale(1.08,1)" font-size="9.9"><tspan font-style="italic">P</tspan> &lt;0.001</text>
</svg>
</body></html>
